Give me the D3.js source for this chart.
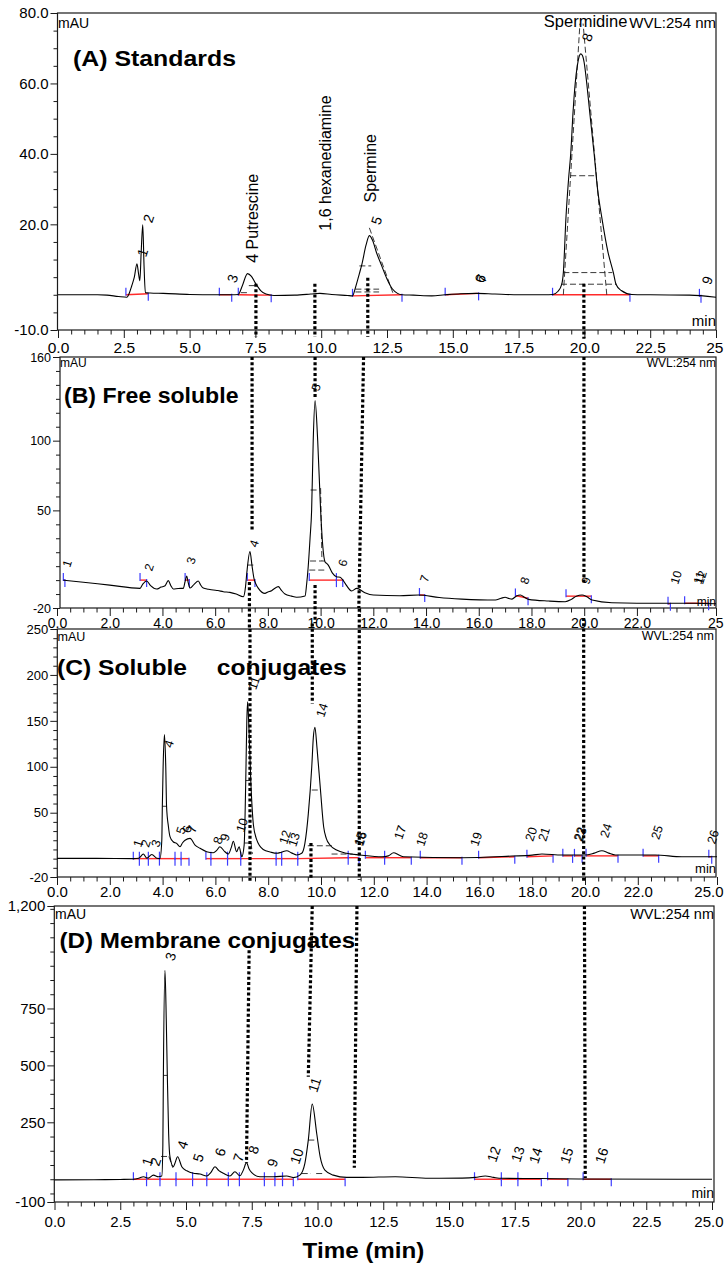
<!DOCTYPE html>
<html><head><meta charset="utf-8">
<script src="https://cdn.jsdelivr.net/npm/d3@7"></script>
<style>
body{margin:0;background:#fff}
svg{display:block}
text{font-family:"Liberation Sans",Arial,Helvetica,sans-serif;fill:#000}
</style></head>
<body><svg id="chart" width="724" height="1270"></svg>
<script>
// ---------------- DATA ----------------
// Panel A: Standards  [time (min), signal (mAU)]
const traceA = [[0,0],[1.5,0],[1.86,-0.1],[2.3,-0.5],[2.62,-0.7],[2.7,0.3],[2.8,2.5],[2.9,5],[3.0,8.8],[3.06,6],[3.11,4],[3.16,12],[3.22,19.9],[3.27,8],[3.32,0.6],[3.5,0.5],[4.0,0.4],[5.0,0.1],[6.0,0],[6.6,0],[6.85,0.1],[7.0,2.5],[7.2,6.0],[7.35,5.2],[7.5,3.3],[7.7,1.2],[7.9,0.2],[8.2,-0.2],[9.0,-0.1],[9.6,0.2],[9.95,0.4],[10.4,0.1],[11.0,-0.2],[11.19,-0.3],[11.3,2],[11.45,6],[11.55,8.8],[11.7,14],[11.83,16.8],[11.95,15.5],[12.1,12],[12.3,8.2],[12.5,4.5],[12.7,1.7],[12.9,0.4],[13.07,0],[13.5,-0.1],[14.2,-0.3],[14.7,0],[15.3,0.3],[15.9,0.4],[16.6,0.2],[17.5,0],[18.5,0],[18.8,0.1],[19.0,1.0],[19.14,3.0],[19.2,6.3],[19.3,22],[19.4,33],[19.48,40],[19.57,52],[19.65,60],[19.73,65],[19.8,67.6],[19.86,68.4],[19.92,68],[19.99,66],[20.09,60],[20.2,52],[20.37,40],[20.5,30],[20.66,22],[20.9,12],[21.1,6.3],[21.2,3.0],[21.4,1.2],[21.8,0.1],[22.5,0],[24.0,-0.1],[25,-0.7]];
// Panel B: Free soluble
const traceB = [[0.24,0],[1.0,-1.5],[2.0,-3.6],[3.15,-5.9],[3.25,-3],[3.4,-0.6],[3.55,-4],[3.78,-6.4],[3.95,-5],[4.1,-4],[4.22,-0.4],[4.32,-4],[4.41,-6.4],[4.6,-6],[4.79,-5.9],[4.86,-1],[4.92,2.9],[4.98,-2],[5.05,-5.7],[5.2,-3],[5.36,-0.6],[5.45,-3.5],[5.55,-5.7],[5.75,-6.5],[5.93,-7.1],[6.1,-7.5],[6.31,-8.3],[6.56,-8.8],[6.8,-10],[7.07,-11.9],[7.15,-5],[7.2,5],[7.32,20.4],[7.4,10],[7.47,1.5],[7.55,-3],[7.64,-5.9],[7.89,-9.5],[8.0,-8.5],[8.14,-7.6],[8.25,-6],[8.4,-4.7],[8.5,-7],[8.65,-10],[8.9,-11.5],[9.09,-12.3],[9.41,-11.4],[9.47,-3],[9.53,9.6],[9.6,30],[9.66,50.3],[9.72,100],[9.79,128.7],[9.89,100],[10.0,50.3],[10.08,25],[10.17,13],[10.23,12],[10.29,10.8],[10.45,5],[10.6,2.4],[10.74,2],[10.85,0],[10.93,-2.3],[11.18,-7.8],[11.37,-5.9],[11.68,-9],[12.0,-10.7],[13.0,-11.2],[13.72,-10.7],[14.5,-12.5],[15.36,-13.6],[16.63,-14.3],[16.85,-13],[17.0,-12.3],[17.15,-13.2],[17.26,-13.6],[17.42,-11.5],[17.58,-10.7],[17.75,-12.5],[17.89,-13.8],[18.65,-15],[19.28,-15.5],[19.5,-14],[19.7,-11.5],[19.92,-10.7],[20.1,-12],[20.3,-14.3],[21.05,-16.2],[22.95,-16.6],[24.2,-16.6],[25,-17]];
// Panel C: Soluble conjugates
const traceC = [[0,0.3],[1.5,0.3],[2.9,0],[3.1,0.5],[3.27,5],[3.4,0.5],[3.59,4.5],[3.78,0.5],[3.9,0],[3.97,20],[3.99,57],[4.02,100],[4.07,135],[4.12,100],[4.15,57],[4.22,35],[4.28,24],[4.4,18.4],[4.53,16.6],[4.66,13],[4.75,17],[4.85,20],[5.04,22],[5.23,14.8],[5.42,11.2],[5.67,7.5],[5.92,6.4],[6.05,9],[6.17,13],[6.36,7.5],[6.49,5],[6.6,12],[6.68,19],[6.8,7.5],[6.9,13],[7.0,2],[7.09,15],[7.15,85],[7.19,150],[7.22,170.8],[7.26,150],[7.34,85],[7.44,36.6],[7.56,21],[7.81,10],[8.1,7],[8.32,5.8],[8.5,7],[8.7,8.6],[8.9,6],[9.08,4],[9.27,5.8],[9.39,16.6],[9.52,49],[9.65,100],[9.71,132],[9.77,143],[9.85,120],[9.98,74.7],[10.1,34.7],[10.2,22],[10.34,14.8],[10.59,9.4],[10.97,5.8],[11.48,4],[12.31,2],[12.55,3],[12.75,6.4],[12.95,4],[13.13,2],[15.34,1],[17.24,2.8],[18.0,3.8],[18.37,5],[19.13,3.9],[20.0,3.9],[20.35,6],[20.64,8.6],[20.9,6],[21.15,4],[22.66,4],[23.67,2],[25,2]];
// Panel D: Membrane conjugates
const traceD = [[0,-3],[1.5,-2],[2.5,-1],[3.0,0],[3.2,4],[3.38,11],[3.57,5],[3.76,18],[3.95,11],[4.08,14],[4.12,150],[4.14,456],[4.2,918],[4.25,700],[4.29,456],[4.34,200],[4.39,99],[4.52,55],[4.58,70],[4.68,99],[4.84,55],[5.03,37],[5.28,26],[5.53,23],[5.79,14],[5.95,30],[6.1,55],[6.25,38],[6.42,26],[6.67,14],[6.86,33],[7.05,15],[7.18,40],[7.3,73],[7.4,45],[7.5,29],[7.81,11],[8.32,11],[8.83,14],[9.08,7],[9.33,18],[9.52,70],[9.65,172],[9.8,330],[9.97,201],[10.1,99],[10.28,40],[10.6,18],[11.11,8],[11.69,8],[12.96,11],[14.23,4],[15.5,5],[16.0,8],[16.38,14],[16.7,8],[17.0,4],[18.5,3],[19.93,1],[25,0]];

// Peak number labels [text, time, signal]
const labelsA = [["1",3.34,10.5],["2",3.57,20.2],["3",6.76,3.1],["5",12.23,19.6],["6",16.18,3.1],["7",16.22,3.1],["8",20.24,71.6],["9",24.8,2.6]];
const labelsB = [["1",0.49,8.6],["2",3.6,6],["3",5.2,10.8],["4",7.59,23],["5",9.94,135],["6",10.95,9.2],["7",14.06,-2],["8",17.86,-3.5],["9",20.18,-3.5],["10",23.56,-3.5],["11",24.43,-3.5],["12",24.5,-3.5]];
const labelsC = [["1",3.18,11.5],["2",3.48,11.5],["3",3.86,11.5],["4",4.36,120],["5",4.81,25.7],["6",5.04,27],["7",5.23,27],["8",6.21,14.8],["9",6.48,18],["10",7.08,27.9],["11",7.54,183],["12",8.71,14.8],["13",9.05,12],["14",10.11,153],["15",11.55,13],["16",11.59,13],["17",13.07,20],["18",13.9,12.6],["19",15.95,12.6],["20",18.03,18],["21",18.52,18],["22",19.87,18],["23",19.91,18],["24",20.87,22],["25",22.8,20],["26",24.92,15]];
const labelsD = [["1",3.66,54],["2",3.97,54],["3",4.54,955],["4",5.0,128],["5",5.6,71],["6",6.44,97],["7",7.13,71],["8",7.7,106],["9",8.42,49],["10",9.3,62],["11",9.98,378],["12",16.79,71],["13",17.7,71],["14",18.38,65],["15",19.56,65],["16",20.89,65]];
// Compound names in panel A [text, time, signal]
const compoundsA = [["4 Putrescine",7.6,9.1],["1,6 hexanediamine",10.37,18.2],["Spermine",12.08,26.2]];
const spermidineA = ["Spermidine",18.46,75.9];

// Integration windows [start, end, baseStart, baseEnd]
const windowsA = [[2.58,3.43,0,0.3],[6.13,6.6,0,0],[6.85,8.1,0,-0.1],[11.19,13.07,-0.3,0],[14.71,15.98,0,0.4],[18.79,21.73,0,0],[24.37,24.43,-0.3,-0.3]];
const windowsB = [[0.24,0.3,0,0],[3.15,3.4,0,0],[4.86,5.02,0,0],[7.22,7.51,0,0],[9.57,10.6,0,0],[10.6,10.84,0,0],[13.75,13.95,-10.7,-10.7],[17.39,17.87,-11,-13],[19.31,20.27,-11.5,-11.5],[23.18,23.27,-17,-17],[23.81,24.72,-16.6,-16.6]];
const windowsC = [[2.89,3.12,0,0],[3.12,3.46,0,0],[3.46,3.88,0,0],[3.88,4.47,0,0],[4.47,4.7,0,0],[4.7,5.0,0,0],[5.64,5.83,0,0],[5.83,6.46,0,0],[6.46,6.96,0,0],[6.96,8.3,0,0],[8.3,8.51,0,0],[8.51,9.12,0,0],[9.12,11.03,0,1],[11.03,11.44,1,1],[11.68,12.41,1,1],[12.41,13.42,1,1],[13.76,15.34,1,1],[15.97,17.34,1,2],[17.8,18.79,2,3],[19.16,19.53,3,3],[19.6,19.89,3,3],[20.04,21.25,3,3],[22.2,22.79,3,3],[24.69,24.8,2,2]];
const windowsD = [[3.0,3.5,0,0],[3.5,4.01,0,0],[4.01,4.62,0,0],[4.62,5.25,0,0],[5.25,5.79,0,0],[5.79,6.61,0,0],[6.61,7.03,0,0],[7.03,7.98,0,0],[7.98,8.38,0,0],[8.38,8.67,0,0],[8.67,9.08,0,0],[9.25,11.05,0,0],[15.97,16.99,0,0],[16.99,17.62,0,0],[17.62,18.51,0,0],[18.75,19.52,0,0],[20.1,21.17,0,0]];

// Dashed integration marks [t1, v1, t2, v2]
const dashesA = [[19.46,33.8,20.37,33.8],[19.2,6.3,21.06,6.3],[19.11,3.0,21.23,3.0],[19.2,0,19.83,77],[20.85,0,19.95,77],[11.45,8.2,11.9,8.2],[11.3,1.6,12.2,1.6],[11.3,0.8,12.2,0.8],[11.83,19,12.75,0],[6.95,0.6,7.25,0.6],[7.25,2.6,7.6,2.6]];
const dashesB = [[9.62,64.6,9.95,64.6],[9.6,13.7,10.17,13.7],[9.57,7.2,10.17,7.2],[10.0,66,10.05,14],[7.22,10.8,7.47,10.8]];
const dashesC = [[3.99,57,4.15,57],[7.15,85,7.34,85],[7.1,17,7.3,17],[7.35,17,7.4,5],[9.65,74.7,9.98,74.7],[9.5,14,10.5,14],[10.4,5,11.2,5]];
const dashesD = [[4.14,456,4.29,456],[4.05,100,4.3,100],[4.35,100,4.5,50],[9.65,172,9.97,172],[9.4,25,9.75,25],[9.95,25,10.25,25]];

// Dotted retention-time guide lines [t1, v1, t2, v2]
const guidesA = [[7.52,3.1,7.52,-12],[9.76,3.1,9.76,-12],[11.77,4.8,11.77,-12],[19.98,3.1,19.98,-12.5]];
const guidesB = [[7.4,160,7.4,36],[7.3,-1.4,7.3,-35],[9.79,160,9.79,131],[9.79,-3.5,9.79,-31],[11.63,160,11.45,-20],[19.99,160,19.99,-3]];
const guidesC = [[7.31,250,7.31,-24],[9.67,256,9.67,169],[9.62,17,9.62,-22],[11.45,272,11.45,-23],[19.95,262,19.95,-24]];
const guidesD = [[7.4,1006,7.3,71],[9.8,1200,9.65,450],[11.5,1200,11.4,50],[20.15,1200,20.18,5]];

// Tick values
const yTicksA = [80,60,40,20,-10];
const yTicksB = [160,100,50,-20];
const yTicksC = [250,200,150,100,50,-20];
const yTicksD = [1200,750,500,250,-100];
const xTicksA = [0,2.5,5,7.5,10,12.5,15,17.5,20,22.5,25];
const xTicksB = [0,2,4,6,8,10,12,14,16,18,20,22,25];
const xTicksC = [0,2,4,6,8,10,12,14,16,18,20,22,25];
const xTicksD = [0,2.5,5,7.5,10,12.5,15,17.5,20,22.5,25];

// ---------------- DRAW ----------------
const svg = d3.select("#chart");
const fmt1 = d => d.toFixed(1);
const fmtEnd = d => (d === 25 ? "25" : d.toFixed(1));
const fmtInt = d => String(d);
const fmtComma = d => (d >= 1000 ? Math.floor(d/1000) + "," + String(d%1000).padStart(3,"0") : String(d));

const panels = [
 {trace:traceA, labels:labelsA, windows:windowsA, dashes:dashesA, guides:guidesA,
  xr:[58,716], axisX:57.5, right:716, top:13, bottom:330, yDom:[-10,80],
  yTicks:yTicksA, yMinor:d3.range(-10,80.01,5), yFmt:fmt1, yFont:15,
  xTicks:xTicksA, xMinor:d3.range(0,25.01,0.5), xFmt:fmtEnd, xFont:15.5, xLabelY:23, numFont:14,
  title:"(A) Standards", titleX:73, titleY:66, titleScale:1.13,
  mau:[58,28,14], wvl:[716,27.5,15], minL:[716,326,15]},
 {trace:traceB, labels:labelsB, windows:windowsB, dashes:dashesB, guides:guidesB,
  xr:[57,716], axisX:60, right:716, top:357, bottom:608, yDom:[-20,160],
  yTicks:yTicksB, yMinor:d3.range(-20,160.01,10), yFmt:fmtInt, yFont:12.5,
  xTicks:xTicksB, xMinor:d3.range(0,25.01,0.5), xFmt:fmtEnd, xFont:14, xLabelY:20, numFont:12,
  title:"(B) Free soluble", titleX:64, titleY:403, titleScale:1.05,
  mau:[60,367,12], wvl:[716,366.5,12], minL:[716,606,12]},
 {trace:traceC, labels:labelsC, windows:windowsC, dashes:dashesC, guides:guidesC,
  xr:[57,717], axisX:57.3, right:716, top:629, bottom:877, yDom:[-20,250],
  yTicks:yTicksC, yMinor:d3.range(-20,250.01,10), yFmt:fmtInt, yFont:13,
  xTicks:xTicksC, xMinor:d3.range(0,25.01,0.5), xFmt:fmt1, xFont:15, xLabelY:20, numFont:12.5,
  title:"(C) Soluble", title2:"conjugates", title2X:216.7, titleX:57, titleY:675, titleScale:1.12,
  mau:[57.5,640.5,12.5], wvl:[714,640,12.5], minL:[716,873,13]},
 {trace:traceD, labels:labelsD, windows:windowsD, dashes:dashesD, guides:guidesD,
  xr:[54.5,712], axisX:54.3, right:714, top:906, bottom:1202, yDom:[-100,1200],
  yTicks:yTicksD, yMinor:d3.range(-62.5,1200,62.5), yFmt:fmtComma, yFont:15,
  xTicks:xTicksD, xMinor:d3.range(0,25.01,0.5), xFmt:fmt1, xFont:15, xLabelY:25, numFont:14,
  title:"(D) Membrane conjugates", titleX:59.5, titleY:948, titleScale:1.1,
  mau:[55,919,14], wvl:[714,919,14.5], minL:[714,1198,14]}
];

panels.forEach(p => {
  const x = d3.scaleLinear().domain([0,25]).range(p.xr);
  const y = d3.scaleLinear().domain(p.yDom).range([p.bottom, p.top]);
  const g = svg.append("g");

  // frame
  g.append("rect").attr("x",p.axisX).attr("y",p.top)
    .attr("width",p.right-p.axisX).attr("height",p.bottom-p.top)
    .attr("fill","none").attr("stroke","#1a1a1a").attr("stroke-width",1.2);

  // y axis major
  const ya = g.append("g").attr("transform",`translate(${p.axisX},0)`)
    .call(d3.axisLeft(y).tickValues(p.yTicks).tickFormat(p.yFmt).tickSize(7).tickPadding(2));
  ya.select(".domain").remove();
  ya.selectAll("text").attr("font-size",p.yFont).attr("font-family","Liberation Sans, Arial, sans-serif").attr("fill","#000");
  ya.selectAll("line").attr("stroke","#1a1a1a");
  // y minor
  const ym = g.append("g").attr("transform",`translate(${p.axisX},0)`)
    .call(d3.axisLeft(y).tickValues(p.yMinor.filter(v=>!p.yTicks.includes(v))).tickFormat("").tickSize(4));
  ym.select(".domain").remove();
  ym.selectAll("line").attr("stroke","#1a1a1a");

  // x axis major
  const xa = g.append("g").attr("transform",`translate(0,${p.bottom})`)
    .call(d3.axisBottom(x).tickValues(p.xTicks).tickFormat(p.xFmt).tickSize(8));
  xa.select(".domain").remove();
  xa.selectAll("text").attr("font-size",p.xFont).attr("y",p.xLabelY).attr("dy",0)
    .attr("font-family","Liberation Sans, Arial, sans-serif").attr("fill","#000");
  // keep the last label inside the picture
  xa.selectAll(".tick").filter(d=>d===25).select("text")
    .attr("text-anchor","end").attr("x", 723 - x(25));
  xa.selectAll("line").attr("stroke","#1a1a1a");
  const xm = g.append("g").attr("transform",`translate(0,${p.bottom})`)
    .call(d3.axisBottom(x).tickValues(p.xMinor.filter(v=>!p.xTicks.includes(v))).tickFormat("").tickSize(4.5));
  xm.select(".domain").remove();
  xm.selectAll("line").attr("stroke","#1a1a1a");

  // integration baselines (red) and delimiters (blue)
  g.selectAll(null).data(p.windows).join("line")
    .attr("x1",d=>x(d[0])).attr("x2",d=>x(d[1])).attr("y1",d=>y(d[2])).attr("y2",d=>y(d[3]))
    .attr("stroke","#ff2a2a").attr("stroke-width",1.4);
  g.selectAll(null).data(p.windows).join("line")
    .attr("x1",d=>x(d[0])).attr("x2",d=>x(d[0])).attr("y1",d=>y(d[2])-7).attr("y2",d=>y(d[2])+1)
    .attr("stroke","#3c3cff").attr("stroke-width",1.2);
  g.selectAll(null).data(p.windows).join("line")
    .attr("x1",d=>x(d[1])).attr("x2",d=>x(d[1])).attr("y1",d=>y(d[3])-1).attr("y2",d=>y(d[3])+7)
    .attr("stroke","#3c3cff").attr("stroke-width",1.2);

  // dashed integration marks
  g.selectAll(null).data(p.dashes).join("line")
    .attr("x1",d=>x(d[0])).attr("y1",d=>y(d[1])).attr("x2",d=>x(d[2])).attr("y2",d=>y(d[3]))
    .attr("stroke","#222").attr("stroke-width",0.9).attr("stroke-dasharray","6,3");

  // chromatogram trace
  g.append("path").datum(p.trace)
    .attr("d", d3.line().x(d=>x(d[0])).y(d=>y(d[1])).curve(d3.curveMonotoneX))
    .attr("fill","none").attr("stroke","#000").attr("stroke-width",1.1);

  // peak numbers
  g.selectAll(null).data(p.labels).join("text")
    .attr("transform",d=>`translate(${x(d[1])},${y(d[2])}) rotate(-72)`)
    .attr("font-size",p.numFont).text(d=>d[0]);

  // dotted guides
  g.selectAll(null).data(p.guides).join("line")
    .attr("x1",d=>x(d[0])).attr("y1",d=>y(d[1])).attr("x2",d=>x(d[2])).attr("y2",d=>y(d[3]))
    .attr("stroke","#000").attr("stroke-width",3.2).attr("stroke-dasharray","3,2.3");

  // texts
  g.append("text").attr("x",p.mau[0]).attr("y",p.mau[1]).attr("font-size",p.mau[2]).text("mAU");
  g.append("text").attr("x",p.wvl[0]).attr("y",p.wvl[1]).attr("font-size",p.wvl[2]).attr("text-anchor","end").text("WVL:254 nm");
  g.append("text").attr("x",p.minL[0]).attr("y",p.minL[1]).attr("font-size",p.minL[2]).attr("text-anchor","end").text("min");
  g.append("text").attr("transform",`translate(${p.titleX},${p.titleY}) scale(${p.titleScale},1)`)
    .attr("font-size",22).attr("font-weight","bold").text(p.title);
  if (p.title2) {
    g.append("text").attr("transform",`translate(${p.title2X},${p.titleY}) scale(${p.titleScale},1)`)
      .attr("font-size",22).attr("font-weight","bold").text(p.title2);
  }

  // panel A compound names
  if (p.trace === traceA) {
    g.selectAll(null).data(compoundsA).join("text")
      .attr("transform",d=>`translate(${x(d[1])},${y(d[2])}) rotate(-90)`)
      .attr("font-size",16).text(d=>d[0]);
    g.append("text").attr("x",x(spermidineA[1])).attr("y",y(spermidineA[2]))
      .attr("font-size",16.5).text(spermidineA[0]);
  }
});

svg.append("text").attr("transform","translate(363.5,1258) scale(1.1,1)")
  .attr("text-anchor","middle").attr("font-size",22).attr("font-weight","bold").text("Time (min)");
</script>
</body></html>
